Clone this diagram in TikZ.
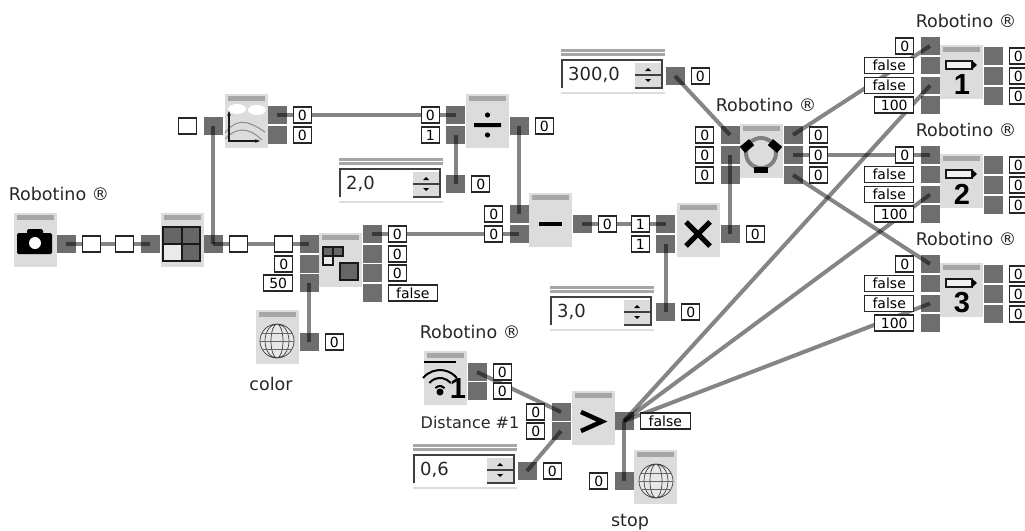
\documentclass[tikz,border=0pt]{standalone}
\usepackage{fontspec}
\setmainfont{DejaVu Sans}
\newfontfamily\numfont{Liberation Sans}
\usetikzlibrary{arrows.meta, positioning, calc}
\definecolor{portgray}{HTML}{6E6E6E}
\definecolor{modgray}{HTML}{DCDCDC}
\definecolor{bargray}{HTML}{A6A6A6}
\tikzset{
    module/.style={rectangle, fill=modgray, minimum width=43pt, minimum height=54pt, inner sep=0pt, path picture={
        \fill[bargray] ([xshift=3pt,yshift=-2pt]path picture bounding box.north west) rectangle ([xshift=-3pt,yshift=-7pt]path picture bounding box.north east);}},
    port/.style={rectangle, fill=portgray, minimum width=19pt, minimum height=17.5pt, inner sep=0pt},
    valbox/.style={rectangle, draw=black!85, line width=1.2pt, fill=white, minimum width=18pt, minimum height=16pt, inner sep=0pt, font=\fontsize{14}{14}\selectfont},
    wire/.style={draw=black, opacity=0.48, line width=4pt},
    caption/.style={font=\fontsize{17.5}{17.5}\selectfont, text=black!85, inner sep=0pt},
    spintext/.style={font=\fontsize{18}{18}\selectfont, text=black!85, inner sep=0pt, anchor=west},
    motornum/.style={font=\fontsize{29}{29}\numfont\bfseries, inner sep=0pt},
    icon/.style={line width=1.2pt, draw=black!90}
}
\newcommand{\spinbox}[4]{%
    \fill[bargray] (#1,#2+1) rectangle ++(104,3);
    \fill[bargray] (#1,#2+5) rectangle ++(104,3);
    \fill[modgray] (#1,#2+44) rectangle ++(104,2);
    \fill[modgray] (#1+74,#2+15) rectangle ++(26,11);
    \fill[modgray] (#1+74,#2+28) rectangle ++(26,11);
    \draw[black!75, line width=1.5pt] (#1+1,#2+40) -- (#1+1,#2+12) -- (#1+101,#2+12) -- (#1+101,#2+40) -- (#1+74,#2+40);
    \draw[black!75, line width=1.2pt] (#1+74,#2+27) -- (#1+101,#2+27);
    \fill[black] (#1+84,#2+23) -- ++(6,0) -- ++(-3,-3) -- cycle;
    \fill[black] (#1+84,#2+31) -- ++(6,0) -- ++(-3,3) -- cycle;
    \node[spintext] (#4) at (#1+7,#2+27) {#3};
}
\newcommand{\globeicon}[2]{%
    \fill[modgray!70] (#1,#2) circle (17);
    \draw[black!75, line width=0.7pt] (#1,#2) circle (17) (#1,#2) ellipse (6 and 17) (#1,#2) ellipse (12 and 17);
    \draw[black!60, line width=0.6pt] (#1-15,#2-8) -- (#1+15,#2-8) (#1-17,#2) -- (#1+17,#2) (#1-15,#2+8) -- (#1+15,#2+8);
}

\begin{document}
\begin{tikzpicture}[x=1pt, y=-1pt, node distance=6pt]
    \useasboundingbox (0,0) rectangle (1025,530);
    % modules
    \node[module] (camera) at (35,240) {};
    \node[module] (grid) at (182,240) {};
    \node[module] (plot) at (246,120.5) {};
    \node[module] (color) at (340.5,259.5) {};
    \node[module] (globecolor) at (277,337) {};
    \node[module] (divide) at (487.5,121) {};
    \node[module] (minus) at (550.5,220) {};
    \node[module] (times) at (698,230) {};
    \node[module] (omni) at (761.5,150.5) {};
    \node[module] (sensor) at (445.5,377.5) {};
    \node[module] (greater) at (593,417.5) {};
    \node[module] (globestop) at (655.5,477) {};
    \foreach \n/\dy in {1/0,2/109,3/218}{
        \node[module] (motor\n) at (961,71.5+\dy) {};
        \draw[icon, line width=1.8pt, fill=modgray!40] (946,61+\dy) rectangle (972,69+\dy);
        \fill[black] (972,60.5+\dy) -- (977,65+\dy) -- (972,69.5+\dy) -- cycle;
        \node[motornum] (num\n) at (962,85+\dy) {\n};
    }
    % spin fields
    \spinbox{339}{157}{2,0}{spintwo}
    \spinbox{561}{48}{300,0}{spinspeed}
    \spinbox{550}{285}{3,0}{spinthree}
    \spinbox{413}{443}{0,6}{spinlimit}
    % icons
    \fill[black, rounded corners=1.5pt] (17,233) rectangle (52,254);
    \fill[black, rounded corners=1.5pt] (27,229) rectangle (43,236);
    \fill[white] (35,243) circle (6);
    \fill[black!60] (163,227) rectangle (182,244) (182,227) rectangle (200,244) (182,244) rectangle (200,261);
    \fill[modgray!60] (163,244) rectangle (182,261);
    \draw[icon] (163,227) rectangle (200,261) (182,227) -- (182,261) (163,244) -- (200,244);
    \fill[white] (237,109) ellipse (9 and 5) (257,110) ellipse (9 and 5);
    \draw[black!45, line width=1pt] (225,133) .. controls (235,120) and (245,118) .. (265,132);
    \draw[black!45, line width=1pt] (225,139) .. controls (235,128) and (248,126) .. (262,140);
    \draw[icon, {Stealth[length=5pt]}-{Stealth[length=5pt]}] (229,111) -- (229,141) -- (260,141);
    \fill[black!60] (323,247) rectangle (343,256);
    \fill[modgray!60] (323,256) rectangle (333,265);
    \draw[icon] (323,247) rectangle (343,256) (333,247) -- (333,256) (323,256) rectangle (333,265);
    \draw[icon, fill=black!60, line width=1.4pt] (340,263) rectangle (358,280);
    \fill[black] (474,123) rectangle (501,127) (487.5,115) circle (2.6) (487.5,135) circle (2.6);
    \fill[black] (539,222) rectangle (562,226);
    \draw[black, line width=5pt] (686,222) -- (710,246) (710,222) -- (686,246);
    \draw[black, line width=4.5pt] (581,412) -- (602,421.5) -- (581,431);
    \draw[black!50, line width=4pt] (761,153) circle (15);
    \fill[black, rotate around={-50:(747,146)}] (743,140) rectangle (751,152);
    \fill[black, rotate around={50:(775,146)}] (771,140) rectangle (779,152);
    \fill[black] (754,167) rectangle (768,173);
    \draw[black, line width=1.8pt] (424,362) -- (456,362);
    \fill[black] (440,392) circle (3.5);
    \draw[black, line width=2pt] (435.4,388.1) arc (-140:-40:6) (429.3,383) arc (-140:-40:14) (423.1,377.9) arc (-140:-40:22);
    \node[motornum] (sensornum) at (458,389) {1};
    \globeicon{277}{341}
    \globeicon{656}{481}
    % ports
    \foreach \nm/\x/\y in {camout/66/244, gridin/150/244, gridout/213/244, plotin/213/126,
        plotouta/277/115, plotoutb/277/135, colin/309/244, colinb/309/264, colinc/309/283,
        coloutu/372/234, coloutv/372/254, coloutw/372/273, coloutx/372/293, globecol/309/342,
        divina/455.5/115, divinb/455.5/135, divout/519/126, spintwoout/455.5/184,
        minina/519/214, mininb/519/234, minout/582/224,
        timina/665.5/224, timinb/665.5/244, timout/730/234, spinthreeout/665.5/312,
        spinspeedout/675/76, omnia/730/135, omnib/730/155, omnic/730/175,
        omnix/793/135, omniy/793/155, omniz/793/175,
        sensa/477/372, sensb/477/391, gtina/561/412, gtinb/561/431, gtout/624/421,
        spinlimitout/527/471, stopin/624/481}{
        \node[port] (\nm) at (\x,\y) {};
    }
    \foreach \n/\dy in {1/0,2/109,3/218}{
        \foreach \k/\yy in {a/46,b/65.5,c/85.5,d/105}{
            \node[port] (mot\n\k) at (930,\yy+\dy) {};
        }
        \foreach \k/\yy in {x/56,y/76,z/96}{
            \node[port] (mot\n\k) at (993,\yy+\dy) {};
        }
    }
    % wires
    \draw[wire] (camout.center) -- (gridin.center);
    \draw[wire] (gridout.center) -- (colin.center);
    \draw[wire] (gridout.center) -- (plotin.center);
    \draw[wire] (plotouta.center) -- (divina.center);
    \draw[wire] (divinb.center) -- (spintwoout.center);
    \draw[wire] (divout.center) -- (minina.center);
    \draw[wire] (coloutu.center) -| (mininb.center);
    \draw[wire] (colinc.center) -- (globecol.center);
    \draw[wire] (minout.center) -- (timina.center);
    \draw[wire] (timinb.center) -- (spinthreeout.center);
    \draw[wire] (spinspeedout.center) -- (omnia.center);
    \draw[wire] (timout.center) -- (omnib.center);
    \draw[wire] (omnix.center) -- (mot1a.center);
    \draw[wire] (omniy.center) -- (mot2a.center);
    \draw[wire] (omniz.center) -- (mot3a.center);
    \draw[wire] (gtout.center) -- (mot1c.center);
    \draw[wire] (gtout.center) -- (mot2c.center);
    \draw[wire] (gtout.center) -- (mot3c.center);
    \draw[wire] (sensa.center) -- (gtina.center);
    \draw[wire] (spinlimitout.center) -- (gtinb.center);
    \draw[wire] (gtout.center) -- (stopin.center);
    % value boxes
    \node[valbox, right=of camout] (camvala) {};
    \node[valbox, left=of gridin] (camvalb) {};
    \node[valbox, right=of gridout] (gridval) {};
    \node[valbox, left=of plotin] (plotval) {};
    \node[valbox, left=of colin] (colval) {};
    \node[valbox, left=of colinb] (colvalb) {0};
    \node[valbox, left=of colinc, minimum width=29pt] (colvalc) {50};
    \node[valbox, right=of coloutx, minimum width=49pt] (colvalx) {false};
    \node[valbox, right=of gtout, minimum width=50pt] (gtval) {false};
    \foreach \p in {plotouta,plotoutb,coloutu,coloutv,coloutw,globecol,divout,spintwoout,minout,
        timout,spinthreeout,spinspeedout,omnix,omniy,omniz,sensa,sensb,spinlimitout}{
        \node[valbox, right=of \p] (\p val) {0};
    }
    \foreach \p/\v in {divina/0,divinb/1,minina/0,mininb/0,timina/1,timinb/1,omnia/0,omnib/0,omnic/0,gtina/0,gtinb/0,stopin/0}{
        \node[valbox, left=of \p] (\p val) {\v};
    }
    \foreach \n in {1,2,3}{
        \node[valbox, left=of mot\n a] (mot\n aval) {0};
        \node[valbox, left=of mot\n b, minimum width=49pt] (mot\n bval) {false};
        \node[valbox, left=of mot\n c, minimum width=49pt] (mot\n cval) {false};
        \node[valbox, left=of mot\n d, minimum width=39pt] (mot\n dval) {100};
        \foreach \k in {x,y,z}{
            \node[valbox, right=of mot\n\k] (mot\n\k val) {0};
        }
    }
    % captions
    \node[caption] (capcam) at (59,194) {Robotino ®};
    \node[caption] (capomni) at (766,105) {Robotino ®};
    \node[caption] (capmota) at (966,21) {Robotino ®};
    \node[caption] (capmotb) at (966,130) {Robotino ®};
    \node[caption] (capmotc) at (966,239) {Robotino ®};
    \node[caption] (capsens) at (470,332) {Robotino ®};
    \node[caption, font=\fontsize{16}{16}\selectfont] (capdist) at (470,423) {Distance \#1};
    \node[caption] (capcolor) at (271,384) {color};
    \node[caption] (capstop) at (630,522) {stop};
\end{tikzpicture}
\end{document}
